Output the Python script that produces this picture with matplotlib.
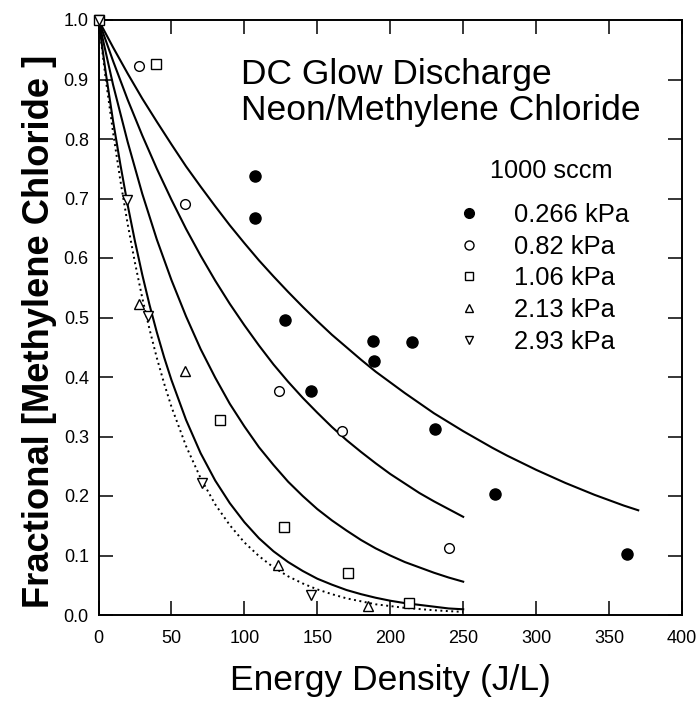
import matplotlib
matplotlib.use('Agg')
from matplotlib import pyplot as plt
from matplotlib.lines import Line2D

plt.rcParams['font.family'] = ['Liberation Sans', 'DejaVu Sans']

# measured points, 1000 sccm
e_0266 = [107, 107, 128, 146, 188, 189, 215, 231, 272, 362]
f_0266 = [0.738, 0.668, 0.495, 0.377, 0.460, 0.427, 0.458, 0.312, 0.204, 0.102]

e_082 = [28, 59, 124, 167, 240]
f_082 = [0.923, 0.691, 0.376, 0.310, 0.112]

e_106 = [0, 39.5, 83.5, 127, 171, 213]
f_106 = [1.0, 0.926, 0.328, 0.148, 0.071, 0.021]

e_213 = [28, 59, 123, 185]
f_213 = [0.522, 0.410, 0.084, 0.015]

e_293 = [0, 19.5, 34, 71, 146]
f_293 = [1.0, 0.697, 0.502, 0.222, 0.034]

# fitted curves
fit_e_a = list(range(0, 371, 10))
fit_a = [1.000, 0.954, 0.910, 0.868, 0.829, 0.791, 0.754, 0.720, 0.687, 0.655,
         0.625, 0.596, 0.569, 0.543, 0.518, 0.494, 0.471, 0.450, 0.429, 0.409,
         0.391, 0.373, 0.356, 0.339, 0.324, 0.309, 0.295, 0.281, 0.268, 0.256,
         0.244, 0.233, 0.222, 0.212, 0.202, 0.193, 0.184, 0.176]

fit_e_b = list(range(0, 251, 10))
fit_b = [1.000, 0.931, 0.866, 0.806, 0.750, 0.698, 0.649, 0.604, 0.562, 0.523,
         0.487, 0.453, 0.421, 0.392, 0.365, 0.340, 0.316, 0.294, 0.274, 0.255,
         0.237, 0.221, 0.205, 0.191, 0.178, 0.165]
fit_c = [1.000, 0.891, 0.795, 0.708, 0.631, 0.563, 0.502, 0.447, 0.399, 0.355,
         0.317, 0.282, 0.252, 0.224, 0.200, 0.178, 0.159, 0.142, 0.126, 0.112,
         0.100, 0.089, 0.080, 0.071, 0.063, 0.056]

fit_e_d = [0, 5, 10, 15, 20, 25, 30, 35, 40, 45] + list(range(50, 251, 10))
fit_d = [1.000, 0.911, 0.830, 0.757, 0.689, 0.628, 0.572, 0.521, 0.475, 0.433,
         0.395, 0.328, 0.272, 0.226, 0.188, 0.156, 0.129, 0.107, 0.089, 0.074,
         0.061, 0.051, 0.042, 0.035, 0.029, 0.024, 0.020, 0.017, 0.014, 0.011, 0.0096]
fit_dot = [1.000, 0.900, 0.811, 0.730, 0.657, 0.592, 0.533, 0.480, 0.432, 0.389,
           0.350, 0.284, 0.230, 0.186, 0.151, 0.122, 0.099, 0.080, 0.065, 0.053,
           0.043, 0.035, 0.028, 0.023, 0.018, 0.015, 0.012, 0.010, 0.008, 0.0065, 0.0052]

labels = ['0.266 kPa', '0.82 kPa', '1.06 kPa', '2.13 kPa', '2.93 kPa']

fig = plt.figure(figsize=(6.99, 7.02), dpi=100)
ax = fig.add_axes([98.5 / 699, 87 / 702, 583.5 / 699, 595 / 702])

# fits
ax.plot(fit_e_a, fit_a, color='k', lw=1.5)
ax.plot(fit_e_b, fit_b, color='k', lw=1.5)
ax.plot(fit_e_b, fit_c, color='k', lw=1.5)
ax.plot(fit_e_d, fit_d, color='k', lw=1.5)
ax.plot(fit_e_d, fit_dot, color='k', lw=1.4, ls=(0, (1, 1.8)))

# data
kw = dict(ls='none', color='k', clip_on=False, zorder=3)
ax.plot(e_0266, f_0266, marker='o', ms=8, **kw)
ax.plot(e_082, f_082, marker='o', ms=7, mfc='white', mew=1.0, **kw)
ax.plot(e_106, f_106, marker='s', ms=6.5, mfc='white', mew=1.0, **kw)
ax.plot(e_213, f_213, marker='^', ms=7, mfc='white', mew=1.0, **kw)
ax.plot(e_293, f_293, marker='v', ms=7, mfc='white', mew=1.0, **kw)

ax.set_xlim(0, 400)
ax.set_ylim(0, 1.0)
ax.set_xticks(range(0, 401, 50))
ax.set_yticks([i / 10 for i in range(11)])
ax.set_yticklabels(['%.1f' % (i / 10) for i in range(11)])
ax.tick_params(direction='in', top=True, right=True, length=10, width=1.1,
               labelsize=13)
ax.tick_params(axis='x', pad=11)
ax.tick_params(axis='y', pad=7)
for s in ax.spines.values():
    s.set_linewidth(1.4)

ax.set_xlabel('Energy Density (J/L)', fontsize=25.5, labelpad=12)
ax.set_ylabel('Fractional [Methylene Chloride ]', fontsize=26.2,
              fontweight='bold', labelpad=5)
ax.yaxis.label.set_y(0.477)

ax.text(0.245, 0.892, 'DC Glow Discharge', transform=ax.transAxes,
        fontsize=25.5, va='baseline')
ax.text(0.245, 0.832, 'Neon/Methylene Chloride', transform=ax.transAxes,
        fontsize=25.5, va='baseline')
ax.text(0.671, 0.7345, '1000 sccm', transform=ax.transAxes,
        fontsize=18.2, va='baseline')

handles = [
    Line2D([], [], ls='none', marker='o', color='k', ms=7),
    Line2D([], [], ls='none', marker='o', color='k', mfc='white', ms=6.5, mew=1.0),
    Line2D([], [], ls='none', marker='s', color='k', mfc='white', ms=5.5, mew=1.0),
    Line2D([], [], ls='none', marker='^', color='k', mfc='white', ms=6, mew=1.0),
    Line2D([], [], ls='none', marker='v', color='k', mfc='white', ms=6, mew=1.0),
]
ax.legend(handles, labels, loc='upper left', bbox_to_anchor=(0.5945, 0.6926),
          frameon=False, fontsize=18.4, numpoints=1, handlelength=1.85,
          handletextpad=0.85, labelspacing=0.30, borderpad=0, borderaxespad=0)

fig.savefig('out.png', dpi=100)
